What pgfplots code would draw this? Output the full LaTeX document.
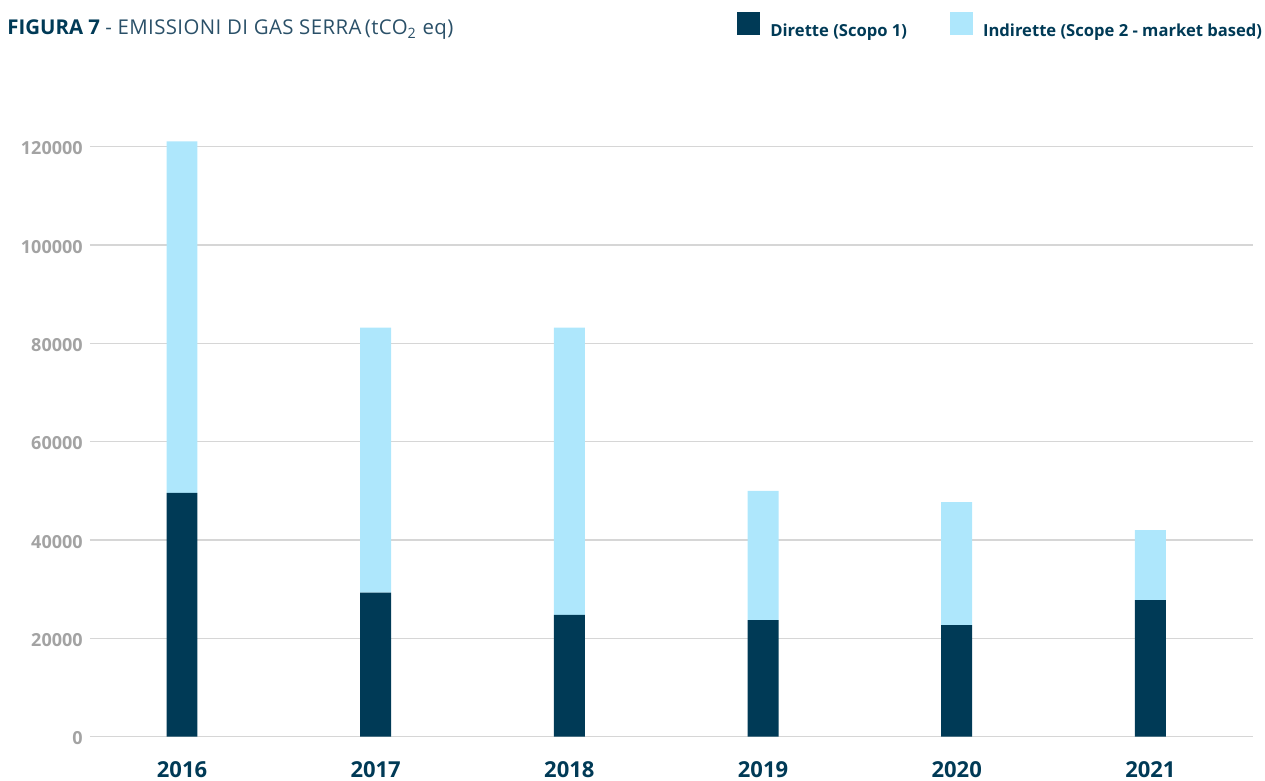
\documentclass[border=0pt]{standalone}
\usepackage{fontspec}
\setmainfont{Open Sans}
\usepackage{pgfplots}
\pgfplotsset{compat=1.18}
\definecolor{navy}{HTML}{003A56}
\definecolor{sky}{HTML}{AEE7FC}
\definecolor{tickgray}{HTML}{A3A3A3}
\definecolor{gridgray}{HTML}{D6D6D6}
\definecolor{titlecol}{HTML}{2A5068}

\begin{document}
\begin{tikzpicture}
\useasboundingbox (0,0) rectangle (632.5pt,390.5pt);
% title
\node[anchor=base west, inner sep=0pt, font=\fontsize{10.2}{11}\selectfont]
  at (3.5pt,373pt) {\textcolor{navy}{\bfseries FIGURA 7} \textcolor{titlecol}{\addfontfeature{LetterSpace=2}- EMISSIONI DI GAS SERRA\,(tCO\textsubscript{2} eq)}};
\begin{axis}[
  at={(45pt,22.15pt)}, anchor=south west,
  scale only axis, width=581.5pt, height=319.6pt,
  ybar stacked, bar width=0.16,
  xmin=-0.475, xmax=5.53, ymin=0, ymax=130000,
  xtick={0,1,2,3,4,5},
  xticklabels={2016,2017,2018,2019,2020,2021},
  ytick={0,20000,40000,60000,80000,100000,120000},
  yticklabels={0,20000,40000,60000,80000,100000,120000},
  scaled y ticks=false,
  ymajorgrids, grid style={draw=gridgray, line width=0.65pt},
  axis line style={draw=none},
  major tick length=0pt,
  yticklabel style={anchor=base east, inner sep=0pt, xshift=-3.5pt, yshift=-4.15pt,
    font=\bfseries\fontsize{9}{10}\selectfont, text=tickgray},
  xticklabel style={anchor=base, inner sep=0pt, yshift=-20.2pt,
    font=\bfseries\fontsize{11}{12}\selectfont, text=navy},
  legend columns=2,
  legend style={at={(0.5563,1.1338)}, anchor=north west, draw=none, fill=none,
    inner sep=0pt, font=\bfseries\fontsize{8.3}{9}\selectfont, text=navy,
    nodes={inner sep=0pt},
    /tikz/every odd column/.append style={column sep=5pt},
    /tikz/every even column/.append style={column sep=21.5pt}},
]
% Dirette (Scopo 1)
\addplot[fill=navy, draw=none,
  legend image code/.code={\fill[navy] (0pt,-2pt) rectangle (11.5pt,9.5pt);}]
  coordinates {(0,49600) (1,29300) (2,24800) (3,23700) (4,22700) (5,27800)};
% Indirette (Scope 2 - market based)
\addplot[fill=sky, draw=none,
  legend image code/.code={\fill[sky] (0pt,-2pt) rectangle (11.5pt,9.5pt);}]
  coordinates {(0,71500) (1,53900) (2,58400) (3,26300) (4,25000) (5,14200)};
\legend{Dirette (Scopo 1), Indirette (Scope 2 - market based)}
\end{axis}
\end{tikzpicture}
\end{document}
